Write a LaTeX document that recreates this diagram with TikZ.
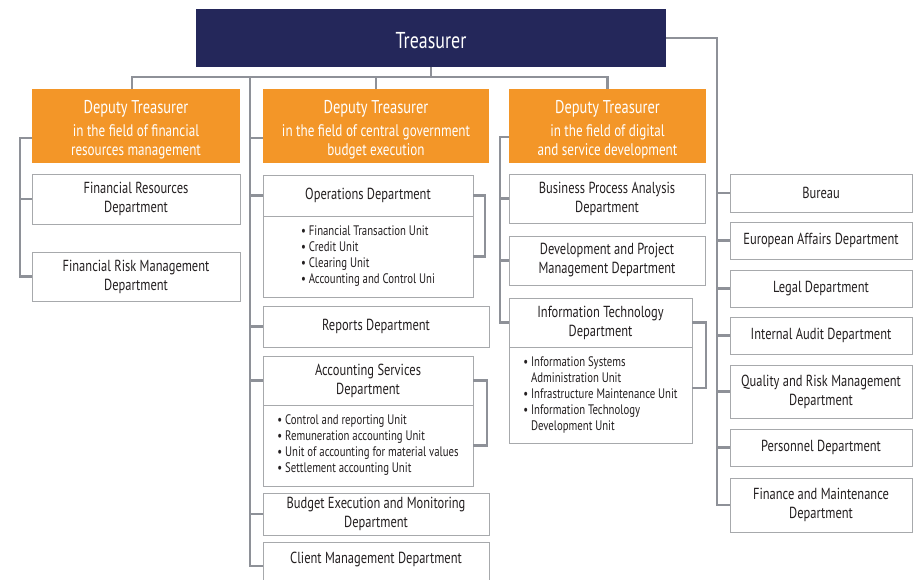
\documentclass[tikz,border=0pt]{standalone}
\usepackage{fontspec}
\setmainfont[FakeStretch=0.78]{PT Sans}
\usepackage{tikz}
\usetikzlibrary{positioning,calc}

\definecolor{navy}{HTML}{24275A}
\definecolor{deporange}{HTML}{F39628}
\definecolor{linkgrey}{HTML}{8E9198}
\definecolor{boxgrey}{HTML}{A7A9AC}
\definecolor{txtgrey}{HTML}{231F20}

\begin{document}
\begin{tikzpicture}[
			x = 1pt, y = -1pt,
			every node/.style = {inner sep = 0pt, outer sep = 0pt},
			treas/.style = {fill = navy, text = white, font = \fontsize{23}{26}\selectfont, text height = 20pt, text depth = 0pt},
			deputy/.style = {fill = deporange, text = white, align = center, font = \fontsize{16.8}{19}\selectfont},
			dept/.style = {draw = boxgrey, line width = 0.9pt, fill = white, text = txtgrey, align = center, font = \fontsize{16}{19}\selectfont},
			units/.style = {draw = boxgrey, line width = 0.9pt, fill = white, text = txtgrey, align = left, font = \fontsize{13.8}{16}\selectfont},
			link/.style = {draw = linkgrey, line width = 2.4pt}
			]

			\useasboundingbox (0,0) rectangle (915,579);

			\def\ttl#1{{\fontsize{18.5}{22}\selectfont\rule{0pt}{21pt}#1}\\[4pt]}

			% top
			\node[treas, minimum width = 470, minimum height = 58] (treas) at (431,38) {Treasurer};

			\node[deputy, minimum width = 208, minimum height = 74] (d1) at (136,126) {\ttl{Deputy Treasurer}in the field of financial\\resources management};
			\node[deputy, minimum width = 226, minimum height = 74] (d2) at (376,126) {\ttl{Deputy Treasurer}in the field of central government\\budget execution};
			\node[deputy, minimum width = 197, minimum height = 74] (d3) at (607.5,126) {\ttl{Deputy Treasurer}in the field of digital\\and service development};

			% left column
			\node[dept, minimum width = 208, minimum height = 50] (fres) at (136,199) {Financial Resources\\Department};
			\node[dept, minimum width = 208, minimum height = 49] (frisk) at (136,276.5) {Financial Risk Management\\Department};

			% middle column
			\node[dept, minimum width = 210, minimum height = 41] (opsh) at (368,195.5) {Operations Department};
			\node[units, minimum width = 210, minimum height = 81, below = 0pt of opsh] (opsl) {\textbullet\ Financial Transaction Unit\\\textbullet\ Credit Unit\\\textbullet\ Clearing Unit\\\textbullet\ Accounting and Control Uni};
			\node[dept, minimum width = 226, minimum height = 41] (rep) at (376,326.5) {Reports Department};
			\node[dept, minimum width = 210, minimum height = 49] (accsh) at (368,380.5) {Accounting Services\\Department};
			\node[units, minimum width = 210, minimum height = 81, below = 0pt of accsh] (accsl) {\textbullet\ Control and reporting Unit\\\textbullet\ Remuneration accounting Unit\\\textbullet\ Unit of accounting for material values\\\textbullet\ Settlement accounting Unit};
			\node[dept, minimum width = 226, minimum height = 42] (bud) at (376,514) {Budget Execution and Monitoring\\Department};
			\node[dept, minimum width = 226, minimum height = 48, text height = 21pt, text depth = 27pt] (cli) at (376,566) {Client Management Department};

			% digital column
			\node[dept, minimum width = 196, minimum height = 49] (bpa) at (607,198.5) {Business Process Analysis\\Department};
			\node[dept, minimum width = 196, minimum height = 49] (dpm) at (607,260.5) {Development and Project\\Management Department};
			\node[dept, minimum width = 183, minimum height = 49] (ith) at (600.5,322.5) {Information Technology\\Department};
			\node[units, minimum width = 183, minimum height = 96, below = 0pt of ith] (itl) {\textbullet\ Information Systems\\\hphantom{\textbullet\ }Administration Unit\\\textbullet\ Infrastructure Maintenance Unit\\\textbullet\ Information Technology\\\hphantom{\textbullet\ }Development Unit};

			% right column
			\node[dept, minimum width = 182, minimum height = 38] (bur) at (821,193) {Bureau};
			\node[dept, minimum width = 182, minimum height = 37] (eur) at (821,240.5) {European Affairs Department};
			\node[dept, minimum width = 182, minimum height = 37] (leg) at (821,288.5) {Legal Department};
			\node[dept, minimum width = 182, minimum height = 37] (aud) at (821,335.5) {Internal Audit Department};
			\node[dept, minimum width = 182, minimum height = 53] (qua) at (821,391.5) {Quality and Risk Management\\Department};
			\node[dept, minimum width = 182, minimum height = 37] (per) at (821,447.5) {Personnel Department};
			\node[dept, minimum width = 182, minimum height = 54] (fin) at (821,505) {Finance and Maintenance\\Department};

			% connectors
			\coordinate (bar) at (0,77);
			\coordinate (spM) at (250,77);
			\coordinate (spL) at (20,0);
			\coordinate (spR) at (500,0);
			\coordinate (spS) at (717,0);
			\coordinate (d1stub) at ([yshift=-12pt]d1.west);
			\coordinate (d2stub) at ([yshift=-12pt]d2.west);
			\coordinate (d3stub) at ([yshift=-11pt]d3.west);
			\coordinate (itstub) at ([yshift=7pt]itl.east);

			\draw[link] (treas.south) -- (treas.south |- bar);
			\draw[link] ([xshift=-4pt]d1.north) |- (bar -| d3.north) -- (d3.north);
			\draw[link] (d2.north) -- (d2.north |- bar);

			\draw[link] (spM) |- (cli.west);
			\draw[link] (spM |- d2stub) -- (d2stub);
			\foreach \n in {opsh,rep,accsh,bud}
				\draw[link] (spM |- \n.west) -- (\n.west);

			\draw[link] (d1stub) -| (spL |- frisk.west) -- (frisk.west);
			\draw[link] (spL |- fres.west) -- (fres.west);

			\draw[link] (d3stub) -| (spR |- ith.west) -- (ith.west);
			\foreach \n in {bpa,dpm}
				\draw[link] (spR |- \n.west) -- (\n.west);

			\draw[link] (treas.east) -| (spS |- fin.west) -- (fin.west);
			\foreach \n in {bur,eur,leg,aud,qua,per}
				\draw[link] (spS |- \n.west) -- (\n.west);

			% unit brackets
			\draw[link] (opsh.east) -- ++(12,0) |- (opsl.east);
			\draw[link] (accsh.east) -- ++(14,0) |- (accsl.east);
			\draw[link] (ith.east) -- ++(14,0) |- (itstub);

		\end{tikzpicture}
\end{document}
